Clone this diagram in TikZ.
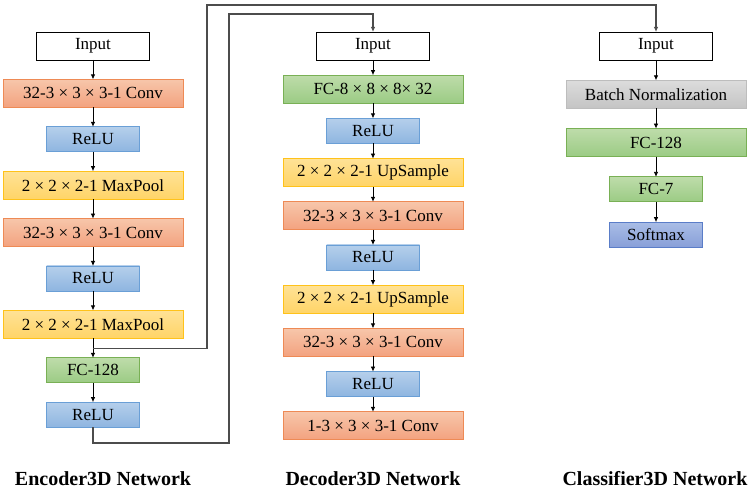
\documentclass[tikz,border=0pt]{standalone}
\usepackage{fontspec}
\setmainfont{Liberation Serif}
\usepackage{tikz}
\usetikzlibrary{positioning,arrows.meta,calc}
\usepackage{xcolor}

\definecolor{convtop}{HTML}{F7C6AA}
\definecolor{convbot}{HTML}{F3A27F}
\definecolor{convdraw}{HTML}{EE8A55}
\definecolor{relutop}{HTML}{B5CFEB}
\definecolor{relubot}{HTML}{8EB5E0}
\definecolor{reludraw}{HTML}{6A9FD6}
\definecolor{pooltop}{HTML}{FFE296}
\definecolor{poolbot}{HTML}{FFD467}
\definecolor{pooldraw}{HTML}{FFC21A}
\definecolor{fctop}{HTML}{BEDCAA}
\definecolor{fcbot}{HTML}{9BCB84}
\definecolor{fcdraw}{HTML}{79B055}
\definecolor{bntop}{HTML}{DCDCDC}
\definecolor{bnbot}{HTML}{C4C4C4}
\definecolor{bndraw}{HTML}{BDBDBD}
\definecolor{smtop}{HTML}{A9BDE6}
\definecolor{smbot}{HTML}{889FD8}
\definecolor{smdraw}{HTML}{5A7DC8}

\begin{document}
\begin{tikzpicture}[
    x=1pt, y=1pt,
    node distance=19.4pt,
    font=\fontsize{17}{20}\selectfont,
    layer/.style={draw, line width=0.9pt, outer sep=0pt, align=center, inner sep=1pt},
    wide/.style={layer, minimum width=180pt, minimum height=28pt},
    narrow/.style={layer, minimum width=93pt, minimum height=25pt},
    inbox/.style={draw=black, line width=0.9pt, outer sep=0pt, fill=white, minimum width=113pt, minimum height=28pt},
    conv/.style={wide, draw=convdraw, top color=convtop, bottom color=convbot},
    relu/.style={narrow, draw=reludraw, top color=relutop, bottom color=relubot},
    pool/.style={wide, draw=pooldraw, top color=pooltop, bottom color=poolbot},
    fcwide/.style={wide, draw=fcdraw, top color=fctop, bottom color=fcbot},
    fcnarrow/.style={narrow, draw=fcdraw, top color=fctop, bottom color=fcbot},
    bnorm/.style={wide, draw=bndraw, top color=bntop, bottom color=bnbot},
    soft/.style={narrow, draw=smdraw, top color=smtop, bottom color=smbot},
    title/.style={font=\fontsize{20}{24}\selectfont\bfseries},
    line/.style={-{Latex[length=5pt,width=4.5pt]}, line width=0.8pt},
    bus/.style={-{Latex[length=5pt,width=4.5pt]}, line width=1.1pt, draw=black!70}
]
\useasboundingbox (0,0) rectangle (755,494);

% encoder
\node[inbox] (encin) at (93,448) {Input};
\node[conv, below=of encin] (econv1) {32-3 × 3 × 3-1 Conv};
\node[relu, below=of econv1] (erelu1) {ReLU};
\node[pool, below=of erelu1] (epool1) {2 × 2 × 2-1 MaxPool};
\node[conv, below=of epool1] (econv2) {32-3 × 3 × 3-1 Conv};
\node[relu, below=of econv2] (erelu2) {ReLU};
\node[pool, below=of erelu2] (epool2) {2 × 2 × 2-1 MaxPool};
\node[fcnarrow, below=of epool2] (efc) {FC-128};
\node[relu, below=of efc] (erelu3) {ReLU};

% decoder
\begin{scope}[node distance=15.2pt]
\node[inbox] (decin) at (373,448) {Input};
\node[fcwide, below=of decin] (dfc) {FC-8 × 8 × 8× 32};
\node[relu, below=of dfc] (drelu1) {ReLU};
\node[pool, below=of drelu1] (dup1) {2 × 2 × 2-1 UpSample};
\node[conv, below=of dup1] (dconv1) {32-3 × 3 × 3-1 Conv};
\node[relu, below=of dconv1] (drelu2) {ReLU};
\node[pool, below=of drelu2] (dup2) {2 × 2 × 2-1 UpSample};
\node[conv, below=of dup2] (dconv2) {32-3 × 3 × 3-1 Conv};
\node[relu, below=of dconv2] (drelu3) {ReLU};
\node[conv, below=of drelu3] (dconv3) {1-3 × 3 × 3-1 Conv};
\end{scope}

% classifier
\begin{scope}[node distance=20.3pt]
\node[inbox] (clsin) at (656,448) {Input};
\node[bnorm, below=of clsin] (cbn) {Batch Normalization};
\node[fcwide, below=of cbn] (cfc1) {FC-128};
\node[fcnarrow, below=of cfc1] (cfc2) {FC-7};
\node[soft, below=of cfc2] (csoft) {Softmax};
\end{scope}

\node[title] (enctitle) at (103,15) {Encoder3D Network};
\node[title] (dectitle) at (373,15) {Decoder3D Network};
\node[title] (clstitle) at (655,15) {Classifier3D Network};

\draw[line] (encin) -- (econv1);
\draw[line] (econv1) -- (erelu1);
\draw[line] (erelu1) -- (epool1);
\draw[line] (epool1) -- (econv2);
\draw[line] (econv2) -- (erelu2);
\draw[line] (erelu2) -- (epool2);
\draw[line] (epool2) -- (efc);
\draw[line] (efc) -- (erelu3);

\draw[line] (decin) -- (dfc);
\draw[line] (dfc) -- (drelu1);
\draw[line] (drelu1) -- (dup1);
\draw[line] (dup1) -- (dconv1);
\draw[line] (dconv1) -- (drelu2);
\draw[line] (drelu2) -- (dup2);
\draw[line] (dup2) -- (dconv2);
\draw[line] (dconv2) -- (drelu3);
\draw[line] (drelu3) -- (dconv3);

\draw[line] (clsin) -- (cbn);
\draw[line] (cbn) -- (cfc1);
\draw[line] (cfc1) -- (cfc2);
\draw[line] (cfc2) -- (csoft);

% features to classifier and decoder
\coordinate (split) at ($(epool2.south)!0.5!(efc.north)$);
\draw[bus] (split) -| (207,489) -| (clsin.north);
\draw[bus] (erelu3.south) |- (229,51) -- (229,480) -| (decin.north);
\end{tikzpicture}
\end{document}
